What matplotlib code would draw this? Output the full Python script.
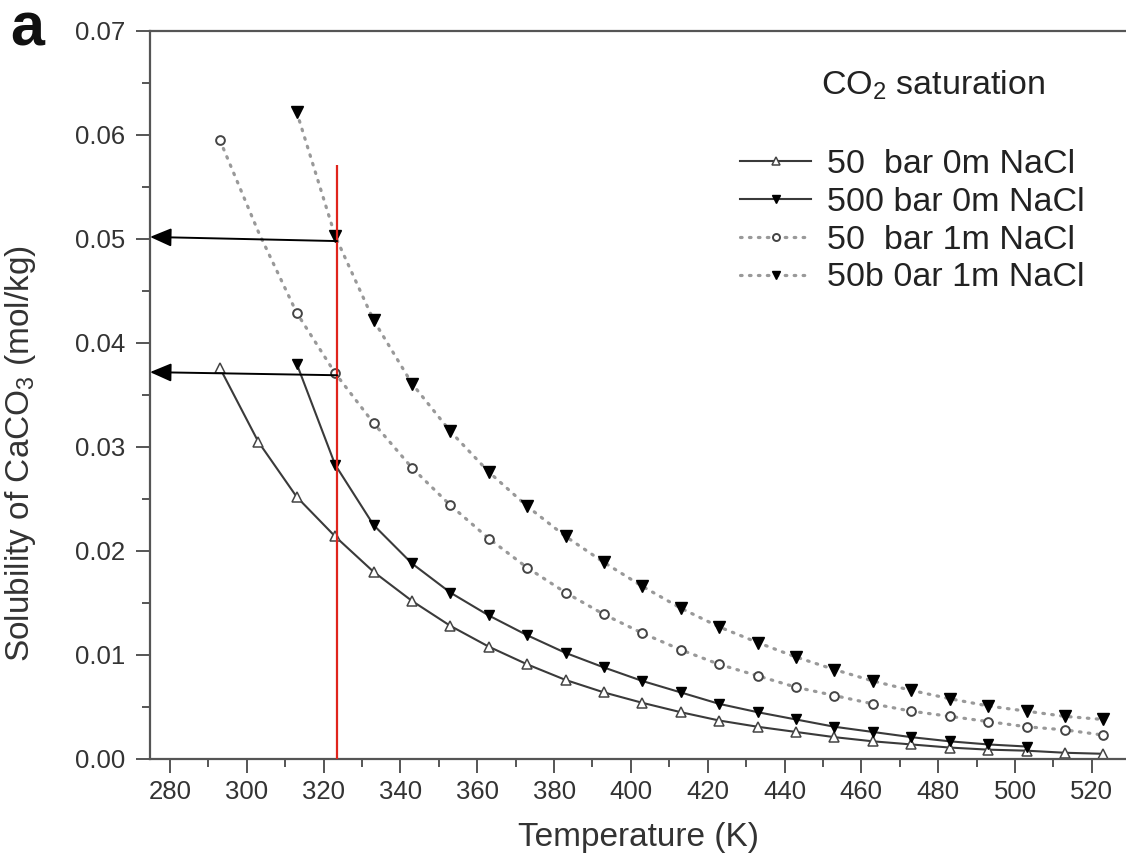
import matplotlib
matplotlib.use("Agg")
import matplotlib.pyplot as plt
from matplotlib.ticker import MultipleLocator, FormatStrFormatter

plt.rcParams['font.family'] = ['Liberation Sans', 'DejaVu Sans']
plt.rcParams['mathtext.default'] = 'regular'

# ---------------- data ----------------
T_50bar_0m = [293, 303, 313, 323, 333, 343, 353, 363, 373, 383, 393, 403,
              413, 423, 433, 443, 453, 463, 473, 483, 493, 503, 513, 523]
S_50bar_0m = [0.0376, 0.0305, 0.0252, 0.0214, 0.0180, 0.0152, 0.0128, 0.0108,
              0.0091, 0.0076, 0.0064, 0.0054, 0.0045, 0.0037, 0.0031, 0.0026,
              0.0021, 0.0017, 0.0014, 0.0011, 0.0009, 0.0008, 0.0006, 0.0005]

T_500bar_0m = [313, 323, 333, 343, 353, 363, 373, 383, 393, 403, 413, 423,
               433, 443, 453, 463, 473, 483, 493, 503]
S_500bar_0m = [0.0380, 0.0283, 0.0225, 0.0188, 0.0160, 0.0138, 0.0119, 0.0102,
               0.0088, 0.0075, 0.0064, 0.0053, 0.0045, 0.0038, 0.0031, 0.0026,
               0.0021, 0.0017, 0.0014, 0.0012]

T_50bar_1m = [293, 303, 313, 323, 333, 343, 353, 363, 373, 383, 393, 403,
              413, 423, 433, 443, 453, 463, 473, 483, 493, 503, 513, 523]
S_50bar_1m = [0.0595, 0.0507, 0.0429, 0.0371, 0.0323, 0.0280, 0.0244, 0.0212,
              0.0184, 0.0160, 0.0139, 0.0121, 0.0105, 0.0091, 0.0080, 0.0069,
              0.0061, 0.0053, 0.0046, 0.0041, 0.0036, 0.0031, 0.0028, 0.0023]
marked_50bar_1m = [i for i in range(len(T_50bar_1m)) if T_50bar_1m[i] != 303]

T_500bar_1m = [313, 323, 333, 343, 353, 363, 373, 383, 393, 403, 413, 423,
               433, 443, 453, 463, 473, 483, 493, 503, 513, 523]
S_500bar_1m = [0.0622, 0.0503, 0.0422, 0.0361, 0.0315, 0.0276, 0.0243, 0.0214,
               0.0189, 0.0166, 0.0145, 0.0127, 0.0112, 0.0098, 0.0086, 0.0075,
               0.0066, 0.0058, 0.0051, 0.0046, 0.0041, 0.0038]

labels = ["50  bar 0m NaCl", "500 bar 0m NaCl", "50  bar 1m NaCl", "50b 0ar 1m NaCl"]

T_mark = 323.5
red_top = 0.0571
arrow_upper = (0.0498, 0.0502)
arrow_lower = (0.0369, 0.0372)

# ---------------- figure ----------------
W, H = 1126, 867
fig = plt.figure(figsize=(W / 100, H / 100), dpi=100)
ax = fig.add_axes([150 / W, 108 / H, (W - 150) / W, (759 - 31) / H])

spine_c = '#555555'
line_c = '#3a3a3a'
dot_c = '#999999'
dots = (0, (0.5, 2.3))

ax.plot(T_50bar_0m, S_50bar_0m, '-', color=line_c, lw=1.5,
        marker='^', ms=6.5, mfc='white', mec='#444444', mew=1.1, label=labels[0])
ax.plot(T_500bar_0m, S_500bar_0m, '-', color=line_c, lw=1.5,
        marker='v', ms=7, mfc='black', mec='black', label=labels[1])
ax.plot(T_50bar_1m, S_50bar_1m, linestyle=dots, color=dot_c, lw=2.3,
        dash_capstyle='round', marker='o', ms=6.3, mfc='white', mec='#444444',
        mew=1.4, markevery=marked_50bar_1m, label=labels[2])
ax.plot(T_500bar_1m, S_500bar_1m, linestyle=dots, color=dot_c, lw=2.3,
        dash_capstyle='round', marker='v', ms=8, mfc='black', mec='black',
        label=labels[3])

ax.vlines(T_mark, 0, red_top, color='#e0241c', lw=1.6, zorder=5)

arrow_style = dict(arrowstyle='-|>,head_length=0.65,head_width=0.28',
                   color='black', lw=1.4, mutation_scale=20,
                   shrinkA=0, shrinkB=0)
ax.annotate('', xy=(274.8, arrow_upper[1]), xytext=(T_mark, arrow_upper[0]),
            arrowprops=arrow_style, annotation_clip=False, zorder=6)
ax.annotate('', xy=(274.8, arrow_lower[1]), xytext=(T_mark, arrow_lower[0]),
            arrowprops=arrow_style, annotation_clip=False, zorder=6)

ax.set_xlim(274.8, 528.9)
ax.set_ylim(0, 0.07)

ax.xaxis.set_major_locator(MultipleLocator(20))
ax.xaxis.set_minor_locator(MultipleLocator(10))
ax.yaxis.set_major_locator(MultipleLocator(0.01))
ax.yaxis.set_minor_locator(MultipleLocator(0.005))
ax.yaxis.set_major_formatter(FormatStrFormatter('%.2f'))

for s in ['left', 'bottom', 'top']:
    ax.spines[s].set_color(spine_c)
    ax.spines[s].set_linewidth(1.6)
ax.spines['right'].set_visible(False)

ax.tick_params(axis='both', which='major', length=10, width=1.4, color=spine_c,
               labelsize=18.5, labelcolor='#333333')
ax.tick_params(axis='both', which='minor', length=5.5, width=1.4, color=spine_c)
ax.tick_params(axis='x', which='both', pad=5)
ax.tick_params(axis='y', which='both', pad=8)

ax.set_xlabel('Temperature (K)', fontsize=24, color='#333333', labelpad=13)
ax.set_ylabel('Solubility of CaCO$_3$ (mol/kg)', fontsize=24, color='#333333')
ax.yaxis.set_label_coords(-112 / (W - 150), 0.42)

leg = ax.legend(loc='upper left', bbox_to_anchor=(740 / W, (H - 149) / H),
                bbox_transform=fig.transFigure, frameon=False, fontsize=24.5,
                handlelength=2.1, handletextpad=0.45, labelspacing=0.2,
                borderpad=0, borderaxespad=0, numpoints=1, markerscale=0.8)
for t in leg.get_texts():
    t.set_color('#222222')

fig.text(933 / W, 1 - 85 / H, 'CO$_2$ saturation', fontsize=24.5, color='#222222',
         ha='center', va='center')
fig.text(27 / W, 1 - 45 / H, 'a', fontsize=44, fontweight='bold', color='#111111',
         ha='center', va='baseline')

fig.savefig('out.png', dpi=100)
